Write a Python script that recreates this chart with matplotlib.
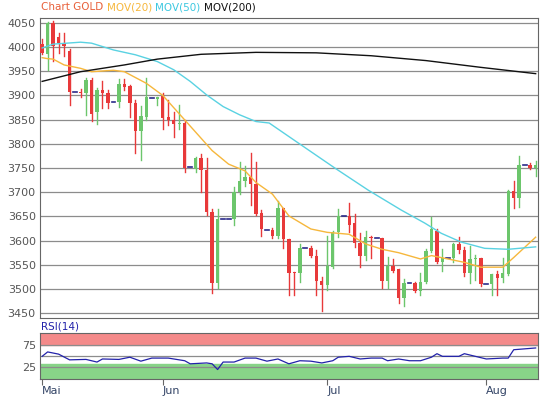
import matplotlib
matplotlib.use("Agg")
import matplotlib.pyplot as plt
import numpy as np

opens  = [4006,3986,4050,4020,4009,3992,3907,3908,3906,3932,3866,3911,3904,3886,3886,3924,3920,3884,3826,3856,3894,3893,3898,3856,3850,3840,3842,3753,3747,3770,3745,3660,3512,3645,3645,3645,3700,3723,3731,3717,3657,3622,3622,3610,3667,3603,3536,3534,3584,3584,3569,3517,3509,3545,3617,3651,3651,3636,3596,3569,3608,3605,3605,3517,3548,3541,3482,3512,3512,3496,3515,3579,3620,3555,3565,3565,3593,3580,3534,3562,3564,3510,3510,3531,3522,3531,3703,3689,3757,3757,3750]
closes = [3988,4050,4002,4009,4002,3907,3907,3905,3932,3862,3911,3904,3885,3886,3924,3917,3884,3826,3858,3896,3894,3896,3853,3850,3840,3842,3751,3753,3770,3745,3659,3512,3645,3645,3645,3700,3724,3731,3717,3655,3623,3622,3610,3667,3603,3534,3534,3584,3584,3569,3517,3509,3548,3617,3651,3651,3633,3596,3569,3608,3605,3605,3517,3548,3538,3482,3513,3512,3496,3515,3579,3624,3555,3565,3565,3593,3580,3534,3562,3563,3510,3510,3531,3522,3532,3703,3689,3757,3757,3750,3757]
highs  = [4016,4051,4053,4028,4028,3995,3909,3913,3935,3937,3915,3930,3911,3888,3934,3934,3922,3890,3878,3936,3896,3897,3905,3890,3866,3880,3849,3755,3772,3778,3770,3666,3666,3660,3647,3711,3762,3755,3780,3762,3664,3624,3627,3682,3667,3603,3536,3592,3586,3589,3580,3524,3610,3620,3665,3653,3677,3655,3616,3620,3610,3607,3606,3566,3562,3542,3520,3513,3514,3534,3582,3649,3623,3582,3566,3596,3608,3586,3588,3570,3564,3512,3531,3538,3564,3704,3724,3775,3759,3761,3765]
lows   = [3985,3952,3971,3987,3981,3881,3905,3896,3859,3847,3840,3875,3875,3884,3876,3912,3855,3780,3766,3850,3892,3880,3831,3838,3815,3830,3742,3751,3742,3700,3652,3492,3503,3607,3643,3633,3696,3712,3673,3653,3610,3620,3605,3605,3584,3488,3488,3515,3582,3566,3488,3455,3497,3543,3607,3649,3617,3587,3546,3559,3564,3603,3502,3502,3536,3470,3464,3510,3494,3488,3513,3577,3553,3537,3563,3555,3575,3526,3512,3519,3506,3508,3488,3488,3515,3529,3667,3670,3755,3748,3733]

ma20_x = [0,1,2,4,7,9,13,15,19,22,25,28,31,34,37,39,40,42,45,49,52,56,59,62,65,69,71,74,77,80,84,86,90]
ma20_y = [3978,3976,3975,3963,3956,3949,3952,3949,3925,3900,3862,3824,3786,3758,3744,3720,3712,3696,3651,3624,3617,3613,3593,3582,3575,3562,3569,3562,3555,3545,3545,3565,3607]
ma50_x = [0,2,7,9,13,17,21,24,27,30,33,36,39,41.4,48.6,53.5,59.5,65.5,69.8,72.8,76.4,80.7,85,90]
ma50_y = [3998,4006,4010,4008,3994,3984,3970,3953,3929,3901,3877,3860,3846,3843,3787,3749,3704,3663,3636,3615,3597,3584,3582,3587]
ma200_x = [0,7,15,21,29,39,50,60,70,80,90]
ma200_y = [3929,3949,3963,3975,3985,3989,3988,3982,3972,3958,3945]
rsi_x = [0,1,3,5,8,10,11,14,16,18,20,23,26,27,30,31,32,33,35,37,39,41,43,45,47,49,51,53,54,56,58,60,62,63,65,67,69,71,72,73,76,77,79,81,84,85,86,88,90]
rsi_y = [50,60,55,42,43,37,44,43,48,39,46,46,40,33,35,33,20,37,37,46,46,39,44,33,40,39,35,40,48,50,44,46,46,40,44,40,40,48,56,50,50,56,50,44,46,46,65,67,69]

tick_idx = [0,22,52,81]
tick_lbl = ["Mai","Jun","Jul","Aug"]

RED = "#e8393a"; GREEN = "#6cc66c"; GRID = "#8c8c8c"
fig = plt.figure(figsize=(5.4,4.0), dpi=100)
ax = fig.add_axes([0.074,0.205,0.922,0.75])
rx = fig.add_axes([0.074,0.0525,0.922,0.115])

for i,(o,c,h,l) in enumerate(zip(opens,closes,highs,lows)):
    if o == c:
        ax.plot([i-0.35,i+0.35],[o,o],color="#2a2a8a",lw=1.2,zorder=3)
        continue
    col = GREEN if c > o else RED
    ax.plot([i,i],[l,h],color=col,lw=1,zorder=3)
    ax.bar(i,abs(c-o),bottom=min(o,c),width=0.62,color=col,zorder=3)

ax.plot(ma20_x,ma20_y,color="#f6b73c",lw=1,zorder=4)
ax.plot(ma50_x,ma50_y,color="#5ad2e2",lw=1,zorder=4)
ax.plot(ma200_x,ma200_y,color="#111111",lw=1,zorder=4)

ax.set_xlim(-0.4,90.4); ax.set_ylim(3440,4060)
ax.set_yticks(range(3450,4051,50))
ax.grid(axis="y",color=GRID,lw=0.9)
ax.set_xticks([])
ax.tick_params(axis="y",labelsize=8,colors="#555555",length=0,pad=3)
for s in ax.spines.values(): s.set_color("#666666")

rx.set_xlim(-0.4,90.4); rx.set_ylim(-1.5,103)
rx.axhspan(75,103,color="#f48a8a",zorder=0)
rx.axhspan(-1.5,33,color="#88d488",zorder=0)
for v in (25,50,75): rx.axhline(v,color=GRID,lw=0.9,zorder=1)
rx.plot(rsi_x,rsi_y,color="#2222aa",lw=0.9,zorder=3)
rx.set_yticks([25,75])
rx.tick_params(axis="y",labelsize=8,colors="#555555",length=0,pad=3)
rx.set_xticks(tick_idx); rx.set_xticklabels(tick_lbl,fontsize=8,color="#334466")
rx.tick_params(axis="x",length=4,color="#666666",pad=1)
for t in rx.get_xticklabels(): t.set_horizontalalignment("left")
for s in rx.spines.values(): s.set_color("#666666")
fig.text(0.076,0.172,"RSI(14)",fontsize=7.5,color="#2222aa",va="bottom")

x0 = 0.076
for txt,col in [("Chart GOLD ","#e8603a"),("MOV(20) ","#f6b73c"),("MOV(50) ","#3cc8e0"),("MOV(200)","#111111")]:
    t = fig.text(x0,0.982,txt,fontsize=7.5,color=col,va="center")
    fig.canvas.draw()
    bb = t.get_window_extent()
    x0 += bb.width/fig.bbox.width
fig.savefig("out.png",dpi=100)
